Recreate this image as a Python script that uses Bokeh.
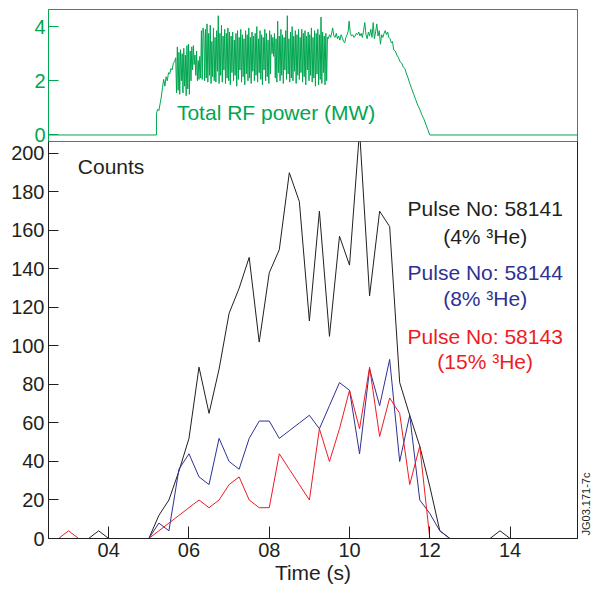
import math
from bokeh.plotting import figure
from bokeh.layouts import column, row
from bokeh.models import Range1d, FixedTicker, LinearAxis, Label
from bokeh.embed import file_html
from bokeh.resources import INLINE

FONT = "Liberation Sans"
GREEN = "#00a650"
BLACK = "#231f20"
BLUE = "#2e3192"
RED = "#ed1c24"

# ---------------- data ----------------
time_s = [2.5, 2.75, 3.0, 3.25, 3.5, 3.75, 4.0, 4.25, 4.5, 4.75,
          5.0, 5.25, 5.5, 5.75, 6.0, 6.25, 6.5, 6.75, 7.0, 7.25,
          7.5, 7.75, 8.0, 8.25, 8.5, 8.75, 9.0, 9.25, 9.5, 9.75,
          10.0, 10.25, 10.5, 10.75, 11.0, 11.25, 11.5, 11.75, 12.0, 12.25,
          12.5, 12.75, 13.0, 13.25, 13.5, 13.75, 14.0, 14.25, 14.5, 14.75,
          15.0, 15.25, 15.5, 15.75]

counts_58141 = [0, 0, 0, 0, 0, 4, 0, 0, 0, 0,
                0, 12, 20, 35, 52, 89, 65, 88, 117, 130,
                146, 102, 138, 150, 190, 175, 113, 170, 105, 157,
                142, 212, 126, 170, 162, 81, 64, 48, 27, 4,
                0, 0, 0, 0, 0, 4, 0, 0, 0, 0,
                0, 0, 0, 0]

counts_58144 = [0, 0, 0, 0, 0, 0, 0, 0, 0, 0,
                0, 8, 4, 36, 44, 32, 28, 52, 40, 36,
                52, 61, 61, 52, 56, 60, 64, 57, 69, 81,
                77, 44, 88, 69, 93, 40, 64, 20, 13, 4,
                0, 0, 0, 0, 0, 0, 0, 0, 0, 0,
                0, 0, 0, 0]

counts_58143 = [0, 0, 4, 0, 0, 0, 0, 0, 0, 0,
                0, 4, 8, 12, 16, 20, 16, 20, 28, 32,
                20, 16, 16, 44, 36, 28, 20, 57, 40, 57,
                77, 57, 89, 53, 73, 65, 28, 48, 0, 0,
                0, 0, 0, 0, 0, 0, 0, 0, 0, 0,
                0, 0, 0, 0]

rf_time = [2.5, 5.19,
           5.19, 5.22, 5.25, 5.28, 5.31, 5.34, 5.37, 5.40, 5.43, 5.46, 5.49, 5.52, 5.55, 5.58, 5.61, 5.64, 5.67,
           5.69, 5.71, 5.73, 5.75, 5.77, 5.79, 5.81, 5.83, 5.85, 5.87, 5.89, 5.91, 5.93, 5.95, 5.97, 5.99,
           6.01, 6.03, 6.05, 6.07, 6.09, 6.11, 6.13, 6.15, 6.17, 6.19, 6.21, 6.23, 6.25, 6.27, 6.29,
           6.31, 6.33, 6.35, 6.37, 6.39, 6.41, 6.43, 6.45, 6.47, 6.49, 6.51, 6.53, 6.55, 6.57, 6.59,
           6.61, 6.63, 6.65, 6.67, 6.69, 6.71, 6.73, 6.75, 6.77, 6.79, 6.81, 6.83, 6.85, 6.87, 6.89,
           6.91, 6.93, 6.95, 6.97, 6.99, 7.01, 7.03, 7.05, 7.07, 7.09, 7.11, 7.13, 7.15, 7.17, 7.19,
           7.21, 7.23, 7.25, 7.27, 7.29, 7.31, 7.33, 7.35, 7.37, 7.39, 7.41, 7.43, 7.45, 7.47, 7.49,
           7.51, 7.53, 7.55, 7.57, 7.59, 7.61, 7.63, 7.65, 7.67, 7.69, 7.71, 7.73, 7.75, 7.77, 7.79,
           7.81, 7.83, 7.85, 7.87, 7.89, 7.91, 7.93, 7.95, 7.97, 7.99, 8.01, 8.03, 8.05, 8.07, 8.09,
           8.11, 8.13, 8.15, 8.17, 8.19, 8.21, 8.23, 8.25, 8.27, 8.29, 8.31, 8.33, 8.35, 8.37, 8.39,
           8.41, 8.43, 8.45, 8.47, 8.49, 8.51, 8.53, 8.55, 8.57, 8.59, 8.61, 8.63, 8.65, 8.67, 8.69,
           8.71, 8.73, 8.75, 8.77, 8.79, 8.81, 8.83, 8.85, 8.87, 8.89, 8.91, 8.93, 8.95, 8.97, 8.99,
           9.01, 9.03, 9.05, 9.07, 9.09, 9.11, 9.13, 9.15, 9.17, 9.19, 9.21, 9.23, 9.25, 9.27, 9.29,
           9.31, 9.33, 9.35, 9.37, 9.39, 9.41, 9.43, 9.45,
           9.47, 9.50, 9.53, 9.56, 9.58, 9.61, 9.64, 9.67, 9.70, 9.73, 9.76, 9.79, 9.82, 9.85, 9.88,
           9.91, 9.94, 9.97, 9.99, 10.02, 10.05, 10.08, 10.11, 10.14, 10.17, 10.20, 10.23, 10.26, 10.29,
           10.32, 10.35, 10.38, 10.41, 10.44, 10.47, 10.50, 10.53, 10.56, 10.59, 10.62, 10.65, 10.68,
           10.71, 10.74, 10.77, 10.80, 10.83, 10.86, 10.89, 10.92, 10.95, 10.98, 11.01,
           11.04, 11.07, 11.10, 11.14, 11.18, 11.22, 11.26, 11.30, 11.34, 11.38, 11.42, 11.46, 11.50,
           11.55, 11.60, 11.65, 11.70, 11.75, 11.80, 11.85, 11.90, 11.95, 12.00, 15.68]

rf_power = [0.0, 0.0,
            0.80, 0.95, 0.90, 1.15, 1.40, 1.75, 2.05, 1.80, 2.15, 2.00, 2.30, 2.25, 2.45, 2.40, 2.65, 2.70, 2.85,
            1.55, 3.25, 1.65, 3.05, 1.50, 3.15, 2.00, 3.00, 1.55, 3.20, 1.80, 2.95, 1.45, 3.30, 1.70, 3.35,
            1.50, 3.10, 2.00, 3.25, 2.40, 3.30, 2.60, 2.95, 2.20, 3.10, 2.00, 2.75, 2.05, 2.90, 2.10,
            3.85, 2.05, 3.95, 3.70, 2.00, 3.90, 2.10, 4.10, 1.95, 3.75, 2.20, 4.05, 1.90, 3.45, 2.15,
            3.95, 2.00, 3.60, 1.95, 3.85, 2.35, 4.40, 1.90, 3.75, 2.20, 4.05, 1.95, 3.65, 2.40, 3.90,
            1.90, 3.75, 2.10, 3.95, 2.00, 3.80, 1.85, 3.65, 2.30, 3.80, 2.00, 3.50, 2.20, 3.75, 1.80,
            3.85, 2.05, 3.60, 2.40, 3.90, 1.95, 3.70, 2.15, 3.55, 1.85, 3.85, 2.25, 3.70, 2.00, 3.95,
            2.10, 3.60, 1.90, 3.80, 2.35, 3.65, 2.00, 3.75, 2.20, 4.00, 1.95, 3.55, 2.30, 3.85, 2.05,
            3.70, 1.85, 3.60, 2.40, 3.90, 2.00, 3.75, 2.15, 3.50, 1.90, 3.85, 2.25, 3.70, 3.00, 3.60,
            2.90, 3.75, 2.10, 3.55, 1.95, 4.20, 2.30, 3.65, 2.00, 3.90, 2.20, 3.70, 1.90, 3.60, 2.40,
            3.85, 2.05, 4.40, 2.25, 3.55, 1.95, 3.80, 2.10, 4.00, 2.00, 3.65, 2.35, 3.85, 1.90, 3.70,
            2.20, 3.90, 2.05, 3.60, 2.30, 3.90, 1.95, 3.75, 2.15, 3.85, 1.85, 3.65, 2.40, 3.80, 2.00,
            3.70, 2.20, 3.95, 1.95, 3.60, 2.10, 3.85, 1.80, 3.75, 2.25, 3.90, 1.85, 3.70, 2.05, 4.35,
            1.90, 3.80, 2.30, 3.65, 1.85, 3.75, 2.00, 3.60,
            3.55, 3.70, 3.60, 3.80, 3.95, 3.65, 3.60, 3.75, 3.55, 3.65, 3.50, 3.70, 3.60, 3.45, 3.40,
            3.60, 3.70, 3.85, 4.20, 3.75, 3.65, 3.70, 3.60, 3.65, 3.75, 3.70, 3.80, 3.65, 3.75,
            3.60, 3.85, 4.15, 3.70, 3.55, 3.80, 3.65, 3.90, 3.60, 4.15, 3.55, 3.80, 4.10,
            3.65, 3.85, 3.35, 3.70, 3.60, 3.75, 3.85, 3.70, 3.80, 3.60, 3.55,
            3.40, 3.45, 3.15, 3.10, 2.95, 2.85, 2.70, 2.65, 2.50, 2.45, 2.25, 2.10, 1.90,
            1.70, 1.50, 1.30, 1.10, 0.95, 0.75, 0.60, 0.40, 0.20, 0.00, 0.00]

x_ticks = [4, 6, 8, 10, 12, 14]
x_tick_labels = ["04", "06", "08", "10", "12", "14"]
y_ticks = [0, 20, 40, 60, 80, 100, 120, 140, 160, 180, 200]
rf_ticks = [0, 2, 4]

legend_texts = ["Pulse No: 58141", "(4% \u00b3He)",
                "Pulse No: 58144", "(8% \u00b3He)",
                "Pulse No: 58143", "(15% \u00b3He)"]
legend_colors = [BLACK, BLACK, BLUE, BLUE, RED, RED]
legend_y = [171.4, 156.6, 138.2, 124.7, 104.9, 91.9]

X0, X1 = 2.5, 15.68

# ---------------- top panel: RF power ----------------
top = figure(width=591, height=150, x_range=Range1d(X0, X1), y_range=Range1d(-0.24, 4.63),
             output_backend="svg", toolbar_location=None, x_axis_location=None,
             min_border_left=48, min_border_right=14, min_border_top=9, min_border_bottom=9)
top.grid.visible = False
top.outline_line_color = GREEN
top.outline_line_width = 1
top.background_fill_color = "white"
top.border_fill_color = "white"
ya = top.yaxis[0]
ya.ticker = FixedTicker(ticks=rf_ticks)
ya.axis_line_color = GREEN
ya.major_tick_line_color = GREEN
ya.major_tick_in = 10
ya.major_tick_out = 0
ya.minor_tick_line_color = None
ya.major_label_text_color = GREEN
ya.major_label_text_font = FONT
ya.major_label_text_font_size = "20px"
ya.major_label_standoff = 3

top.line(rf_time, rf_power, line_color=GREEN, line_width=1)
top.add_layout(Label(x=5.70, y=0.82, text="Total RF power (MW)", text_color=GREEN,
                     text_font=FONT, text_font_size="21px", text_baseline="alphabetic",
                     text_align="left"))

# ---------------- main panel: counts ----------------
p = figure(width=591, height=452, x_range=Range1d(X0, X1), y_range=Range1d(0, 206.2),
           output_backend="svg", toolbar_location=None, margin=(-9, 0, 0, 0),
           min_border_left=48, min_border_right=14, min_border_top=0, min_border_bottom=55)
p.grid.visible = False
p.outline_line_color = None
p.background_fill_color = None
p.border_fill_color = None

xa = p.xaxis[0]
xa.ticker = FixedTicker(ticks=x_ticks)
xa.major_label_overrides = {t: s for t, s in zip(x_ticks, x_tick_labels)}
xa.axis_line_color = BLACK
xa.major_tick_line_color = BLACK
xa.major_tick_in = 12
xa.major_tick_out = 0
xa.minor_tick_line_color = None
xa.major_label_text_color = BLACK
xa.major_label_text_font = FONT
xa.major_label_text_font_size = "20px"
xa.major_label_standoff = 4
xa.axis_label = "Time (s)"
xa.axis_label_text_font = FONT
xa.axis_label_text_font_size = "21px"
xa.axis_label_text_font_style = "normal"
xa.axis_label_text_color = BLACK
xa.axis_label_standoff = 1

yb = p.yaxis[0]
yb.ticker = FixedTicker(ticks=y_ticks)
yb.axis_line_color = BLACK
yb.major_tick_line_color = BLACK
yb.major_tick_in = 10
yb.major_tick_out = 0
yb.minor_tick_line_color = None
yb.major_label_text_color = BLACK
yb.major_label_text_font = FONT
yb.major_label_text_font_size = "20px"
yb.major_label_standoff = 4

right = LinearAxis(ticker=FixedTicker(ticks=[]), axis_line_color=BLACK,
                   major_tick_line_color=None, minor_tick_line_color=None,
                   major_label_text_font_size="0px", major_label_standoff=0)
p.add_layout(right, "right")

p.line(time_s, counts_58141, line_color=BLACK, line_width=1)
p.line(time_s, counts_58144, line_color=BLUE, line_width=1)
p.line(time_s, counts_58143, line_color=RED, line_width=1)

p.add_layout(Label(x=3.23, y=193.2, text="Counts", text_color=BLACK, text_font=FONT,
                   text_font_size="21px", text_baseline="alphabetic", text_align="left"))
for txt, col, yy in zip(legend_texts, legend_colors, legend_y):
    p.add_layout(Label(x=13.38, y=yy, text=txt, text_color=col, text_font=FONT,
                       text_font_size="21px", text_baseline="alphabetic", text_align="center"))

# ---------------- side strip for the figure id ----------------
side = figure(width=14, height=593, x_range=Range1d(0, 14), y_range=Range1d(0, 593),
              output_backend="svg", toolbar_location=None, margin=(0, 0, 0, -14),
              x_axis_location=None, y_axis_location=None, min_border=0,
              outline_line_color=None, background_fill_color=None, border_fill_color=None)
side.grid.visible = False
side.add_layout(Label(x=8, y=89.5, text="JG03.171-7c", text_color=BLACK, text_font=FONT,
                      text_font_size="11px", angle=math.pi / 2, text_baseline="middle",
                      text_align="center"))

layout = row(column(top, p, spacing=0), side, spacing=0)
open("out.html", "w").write(file_html(layout, INLINE))
